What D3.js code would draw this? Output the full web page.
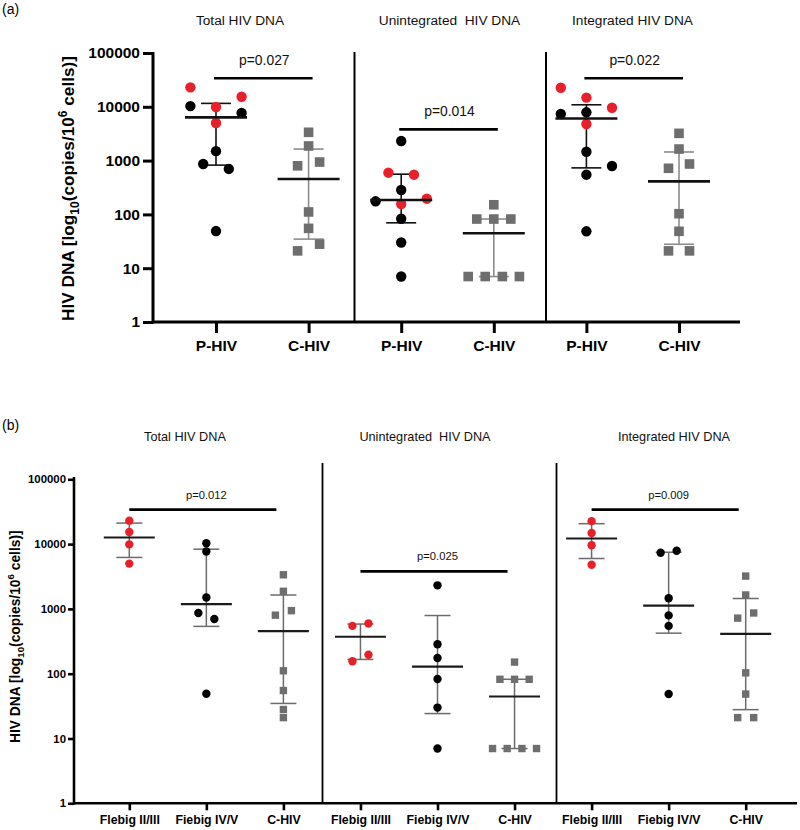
<!DOCTYPE html>
<html>
<head>
<meta charset="utf-8">
<script src="https://cdn.jsdelivr.net/npm/d3@7"></script>
<style>
body { margin: 0; background: #fff; }
text { white-space: pre; }
</style>
</head>
<body>
<svg id="chart" width="800" height="830"></svg>
<script>
var FONT = "'Liberation Sans', Arial, Helvetica, sans-serif";

var measures = ["Total HIV DNA", "Unintegrated  HIV DNA", "Integrated HIV DNA"];
var groupsA = ["P-HIV", "C-HIV"];
var groupsB = ["Flebig II/III", "Fiebig IV/V", "C-HIV"];
var pValuesA = ["p=0.027", "p=0.014", "p=0.022"];
var pValuesB = ["p=0.012", "p=0.025", "p=0.009"];
var pLevels = [34000, 3800, 34000];
var yTicks = [1, 10, 100, 1000, 10000, 100000];

// copies / 10^6 cells, one row per measure (total, unintegrated, integrated)
var fiebigEarly = [[23000, 15400, 9900, 5000], [596, 547, 196, 156], [22600, 14800, 9600, 4790]];
var fiebigLate = [[10300, 7700, 1500, 865, 700, 49], [2310, 284, 175, 83, 30, 7], [7900, 7350, 1460, 794, 547, 48.5]];
var chronic = [[3360, 1870, 940, 800, 111, 55, 28, 21], [151, 82, 82, 82, 7, 7, 7, 7], [3210, 1640, 865, 720, 103, 48.5, 21, 21]];

// scatter lane of each point (side by side when values overlap)
var laneEarlyA = [[-2, 2, 0, 0], [-1, 1, 2, 0], [-2, 0, 2, 0]];
var laneLateA = [[-2, 2, 0, -1, 1, 0], [0, 0, -2, 0, 0, 0], [0, -2, 0, 2, 0, 0]];
var laneChronicA = [[0, 0, 0.86, -0.86, 0, 0, 0.86, -0.86], [0, -1.33, 0, 1.33, -2, -0.67, 0.67, 2], [0, 0, 0.82, -0.82, 0, 0, -0.82, 0.82]];
var laneEarlyB = [[0, 0, 0, 0], [1, -1, 1, -1], [0, 0, 0, 0]];
var laneLateB = [[0, 0, 0, -1, 1, 0], [0, 0, 0, 0, 0, 0], [1, -1, 0, 0, 0, 0]];
var laneChronicB = [[0, 0, 1, -1, 0, 0, 0, 0], [0, -1.83, 0, 1.83, -2.75, -0.92, 0.92, 2.75], [0, 0, 1, -1, 0, 0, -1, 1]];

var colEarly = "#e8202a", colLate = "#000000", colChronic = "#6e6e6e";

var svg = d3.select("#chart");

// quartiles the way GraphPad does it, (n+1)p
function quart(values, p)
{
    var s = values.slice().sort(d3.ascending), n = s.length;
    var pos = (n + 1) * p, lo = Math.floor(pos), fr = pos - lo;
    if (lo < 1) return s[0];
    if (lo >= n) return s[n - 1];
    return s[lo - 1] + fr * (s[lo] - s[lo - 1]);
}

function fill(arr, c) { return arr.map(function(){ return c; }); }

function seriesFor(panel, mi)
{
    if (panel == "a") {
        return [
            { vals: fiebigEarly[mi].concat(fiebigLate[mi]), lanes: laneEarlyA[mi].concat(laneLateA[mi]),
              cols: fill(fiebigEarly[mi], colEarly).concat(fill(fiebigLate[mi], colLate)), shape: "circle", bar: "#111" },
            { vals: chronic[mi], lanes: laneChronicA[mi], cols: fill(chronic[mi], colChronic), shape: "square", bar: "#8c8c8c" }
        ];
    }
    return [
        { vals: fiebigEarly[mi], lanes: laneEarlyB[mi], cols: fill(fiebigEarly[mi], colEarly), shape: "circle", bar: "#6b6b6b" },
        { vals: fiebigLate[mi], lanes: laneLateB[mi], cols: fill(fiebigLate[mi], colLate), shape: "circle", bar: "#6b6b6b" },
        { vals: chronic[mi], lanes: laneChronicB[mi], cols: fill(chronic[mi], colChronic), shape: "square", bar: "#6b6b6b" }
    ];
}

function drawPanel(cfg)
{
    var g = svg.append("g").attr("font-family", FONT);
    var keys = [];
    measures.forEach(function(m, mi){
        cfg.groups.forEach(function(gr, gi){ keys.push(mi + "_" + gi); });
    });
    var x = d3.scalePoint().domain(keys).range(cfg.xRange);
    var y = d3.scaleLog().domain([1, 100000]).range(cfg.yRange);
    var lane = d3.scaleLinear().domain([-1, 1]).range([-cfg.laneStep, cfg.laneStep]);

    // panel letter
    g.append("text").attr("x", 2).attr("y", cfg.letterY).attr("font-size", 14).text(cfg.letter);

    // y axis
    var ya = g.append("g").attr("transform", "translate(" + cfg.axisX + ",0)")
        .call(d3.axisLeft(y).tickValues(yTicks).tickFormat(d3.format("d")).tickSize(cfg.yTick).tickPadding(cfg.yPad));
    ya.attr("font-family", FONT);
    ya.select(".domain").remove();
    ya.selectAll(".tick line").attr("stroke", "#000").attr("stroke-width", cfg.axisW);
    ya.selectAll(".tick text").attr("font-size", cfg.yFont).attr("font-weight", "bold").attr("fill", "#000");

    // x axis
    var xa = g.append("g").attr("transform", "translate(0," + y(1) + ")")
        .call(d3.axisBottom(x).tickSize(cfg.xTick).tickPadding(cfg.xPad)
            .tickFormat(function(k){ return cfg.groups[+k.split("_")[1]]; }));
    xa.attr("font-family", FONT);
    xa.select(".domain").remove();
    xa.selectAll(".tick line").attr("stroke", "#000").attr("stroke-width", cfg.axisW);
    xa.selectAll(".tick text").attr("font-size", cfg.xFont).attr("font-weight", "bold").attr("fill", "#000");

    g.append("line").attr("x1", cfg.axisX).attr("x2", cfg.axisX).attr("y1", cfg.axisTop).attr("y2", y(1) + cfg.axisW / 2)
        .attr("stroke", "#000").attr("stroke-width", cfg.axisW);
    g.append("line").attr("x1", cfg.axisX).attr("x2", cfg.xEnd).attr("y1", y(1)).attr("y2", y(1))
        .attr("stroke", "#000").attr("stroke-width", cfg.axisW);

    cfg.dividers.forEach(function(dx){
        g.append("line").attr("x1", dx).attr("x2", dx).attr("y1", cfg.divTop).attr("y2", y(1))
            .attr("stroke", "#000").attr("stroke-width", cfg.divW);
    });

    measures.forEach(function(m, mi){
        g.append("text").attr("x", cfg.titleX[mi]).attr("y", cfg.titleY).attr("text-anchor", "middle")
            .attr("font-size", cfg.titleFont).attr("fill", "#111").text(m);

        var series = seriesFor(cfg.letter == "(a)" ? "a" : "b", mi);
        var nG = cfg.groups.length;

        // significance bracket
        var x1 = x(mi + "_0") + cfg.pTrim[0], x2 = x(mi + "_" + (nG - 1)) + cfg.pTrim[1];
        var py = y(pLevels[mi]);
        g.append("line").attr("x1", x1).attr("x2", x2).attr("y1", py).attr("y2", py)
            .attr("stroke", "#000").attr("stroke-width", cfg.pW);
        var tx = cfg.letter == "(a)" ? (x1 + x2) / 2 + 1 : x(mi + "_1");
        g.append("text").attr("x", tx).attr("y", py - cfg.pGap).attr("text-anchor", "middle")
            .attr("font-size", cfg.pFont).attr("fill", "#111").text(cfg.pValues[mi]);

        series.forEach(function(s, gi){
            var cx = x(mi + "_" + gi);
            var med = d3.median(s.vals), q1 = quart(s.vals, 0.25), q3 = quart(s.vals, 0.75);
            var eb = g.append("g").attr("stroke", s.bar).attr("stroke-width", cfg.barW);
            eb.append("line").attr("x1", cx).attr("x2", cx).attr("y1", y(q1)).attr("y2", y(q3));
            eb.append("line").attr("x1", cx - cfg.capHalf).attr("x2", cx + cfg.capHalf).attr("y1", y(q1)).attr("y2", y(q1));
            eb.append("line").attr("x1", cx - cfg.capHalf).attr("x2", cx + cfg.capHalf).attr("y1", y(q3)).attr("y2", y(q3));

            var pts = s.vals.map(function(v, i){ return { v: v, lane: s.lanes[i], col: s.cols[i] }; });
            if (s.shape == "circle") {
                g.selectAll(null).data(pts).enter().append("circle")
                    .attr("cx", function(d){ return cx + lane(d.lane); })
                    .attr("cy", function(d){ return y(d.v); })
                    .attr("r", cfg.r)
                    .attr("fill", function(d){ return d.col; });
            } else {
                g.selectAll(null).data(pts).enter().append("rect")
                    .attr("x", function(d){ return cx + lane(d.lane) - cfg.sq / 2; })
                    .attr("y", function(d){ return y(d.v) - cfg.sq / 2; })
                    .attr("width", cfg.sq).attr("height", cfg.sq)
                    .attr("fill", function(d){ return d.col; });
            }

            g.append("line").attr("x1", cx - cfg.medHalf).attr("x2", cx + cfg.medHalf)
                .attr("y1", y(med)).attr("y2", y(med))
                .attr("stroke", cfg.medCol).attr("stroke-width", cfg.medW);
        });
    });

    // y axis title with sub/superscript
    var lab = g.append("text")
        .attr("transform", "translate(" + cfg.labX + "," + cfg.labY + ") rotate(-90)")
        .attr("text-anchor", "middle").attr("font-size", cfg.labFont).attr("font-weight", "bold").attr("fill", "#000");
    lab.append("tspan").text("HIV DNA [log");
    lab.append("tspan").attr("font-size", cfg.labFont * 0.7).attr("dy", cfg.labFont * 0.3).text("10");
    lab.append("tspan").attr("dy", -cfg.labFont * 0.3).text("(copies/10");
    lab.append("tspan").attr("font-size", cfg.labFont * 0.7).attr("dy", -cfg.labFont * 0.4).text("6");
    lab.append("tspan").attr("dy", cfg.labFont * 0.4).text(" cells)]");
}

drawPanel({
    letter: "(a)", letterY: 14, groups: groupsA, pValues: pValuesA,
    xRange: [216, 679], yRange: [322, 53], laneStep: 12.8,
    axisX: 153, axisTop: 52, xEnd: 740, axisW: 3,
    yTick: 10, yPad: 3, yFont: 15.5, xTick: 11, xPad: 7, xFont: 15.5,
    dividers: [354.5, 546], divTop: 52, divW: 2,
    titleX: [240, 449.5, 632.5], titleY: 25, titleFont: 13.7,
    pTrim: [-2, 4], pW: 2.6, pGap: 13.3, pFont: 13.9,
    r: 5.2, sq: 9.6, barW: 1.6, capHalf: 15, medHalf: 31, medCol: "#111", medW: 2.6,
    labX: 74, labY: 188.5, labFont: 17.2
});

drawPanel({
    letter: "(b)", letterY: 430, groups: groupsB, pValues: pValuesB,
    xRange: [129.3, 745.7], yRange: [803.3, 479.3], laneStep: 8,
    axisX: 74, axisTop: 477, xEnd: 797, axisW: 2.6,
    yTick: 6, yPad: 2, yFont: 11.4, xTick: 7, xPad: 5, xFont: 12.3,
    dividers: [322.5, 556.5], divTop: 463, divW: 1.8,
    titleX: [185, 425, 674], titleY: 441, titleFont: 12.7,
    pTrim: [0, -7], pW: 2.8, pGap: 11, pFont: 11.2,
    r: 4.2, sq: 7.4, barW: 1.5, capHalf: 13, medHalf: 25.5, medCol: "#1a1a1a", medW: 2.2,
    labX: 20, labY: 636.7, labFont: 13.8
});
</script>
</body>
</html>
